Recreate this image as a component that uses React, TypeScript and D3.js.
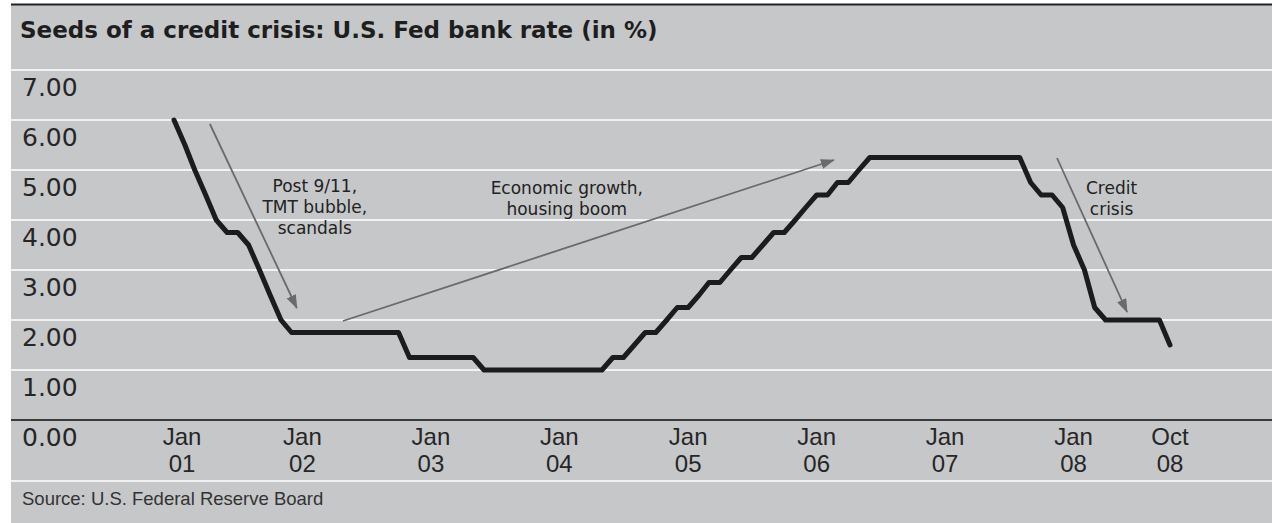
import React from 'react';
import * as d3 from 'd3';

const W = 1272;
const H = 523;

const TITLE = 'Seeds of a credit crisis: U.S. Fed bank rate (in %)';
const SOURCE = 'Source: U.S. Federal Reserve Board';

// Monthly Fed target rate (%), one value per month
const rates2001 = [6.0, 5.5, 5.0, 4.5, 4.0, 3.75, 3.75, 3.5, 3.0, 2.5, 2.0, 1.75];
const rates2002 = [1.75, 1.75, 1.75, 1.75, 1.75, 1.75, 1.75, 1.75, 1.75, 1.75, 1.25, 1.25];
const rates2003 = [1.25, 1.25, 1.25, 1.25, 1.25, 1.0, 1.0, 1.0, 1.0, 1.0, 1.0, 1.0];
const rates2004 = [1.0, 1.0, 1.0, 1.0, 1.0, 1.25, 1.25, 1.5, 1.75, 1.75, 2.0, 2.25];
const rates2005 = [2.25, 2.5, 2.75, 2.75, 3.0, 3.25, 3.25, 3.5, 3.75, 3.75, 4.0, 4.25];
const rates2006 = [4.5, 4.5, 4.75, 4.75, 5.0, 5.25, 5.25, 5.25, 5.25, 5.25, 5.25, 5.25];
const rates2007 = [5.25, 5.25, 5.25, 5.25, 5.25, 5.25, 5.25, 5.25, 4.75, 4.5, 4.5, 4.25];
const rates2008 = [3.5, 3.0, 2.25, 2.0, 2.0, 2.0, 2.0, 2.0, 2.0, 1.5];

const years = [2001, 2002, 2003, 2004, 2005, 2006, 2007, 2008];
const ratesByYear = [rates2001, rates2002, rates2003, rates2004, rates2005, rates2006, rates2007, rates2008];

const yTicks = [0, 1, 2, 3, 4, 5, 6, 7];
const xTickDates = ['2001-01-01', '2002-01-01', '2003-01-01', '2004-01-01', '2005-01-01', '2006-01-01', '2007-01-01', '2008-01-01', '2008-10-01'];
const xTickMonth = ['Jan', 'Jan', 'Jan', 'Jan', 'Jan', 'Jan', 'Jan', 'Jan', 'Oct'];
const xTickYear = ['01', '02', '03', '04', '05', '06', '07', '08', '08'];

// Annotations (data coordinates: date, rate)
const annotationLabels = [
  { lines: ['Post 9/11,', 'TMT bubble,', 'scandals'], date: '2002-02-05', value: 4.56 },
  { lines: ['Economic growth,', 'housing boom'], date: '2004-01-22', value: 4.53 },
  { lines: ['Credit', 'crisis'], date: '2008-04-18', value: 4.53 },
];
const annotationArrows = [
  { from: ['2001-04-13', 5.92], to: ['2001-12-16', 2.24] },
  { from: ['2002-04-26', 1.98], to: ['2006-02-19', 5.2] },
  { from: ['2007-11-15', 5.24], to: ['2008-06-01', 2.16] },
];

const parse = (s: string) => {
  const [y, m, d] = s.split('-').map(Number);
  return new Date(y, m - 1, d);
};

type Pt = { date: Date; value: number };
const series: Pt[] = [];
years.forEach((yr, i) => {
  ratesByYear[i].forEach((v, m) => series.push({ date: new Date(yr, m, 1), value: v }));
});

const BG = '#c6c7c9';
const PANEL_X = 11;

export default function App() {
  const x = d3.scaleTime().domain([new Date(2001, 0, 1), new Date(2008, 9, 1)]).range([174, 1170]);
  const y = d3.scaleLinear().domain([0, 7]).range([420, 70]);
  const line = d3
    .line<Pt>()
    .x((d) => x(d.date))
    .y((d) => y(d.value));

  return (
    <svg
      width={W}
      height={H}
      style={{ position: 'absolute', left: 0, top: 0, display: 'block' }}
      xmlns="http://www.w3.org/2000/svg"
    >
      <defs>
        <marker
          id="arrowhead"
          viewBox="0 0 14 10"
          refX={13}
          refY={5}
          markerWidth={14}
          markerHeight={10}
          markerUnits="userSpaceOnUse"
          orient="auto"
        >
          <path d="M0,0 L14,5 L0,10 Z" fill="#6a6a6a" />
        </marker>
      </defs>
      <rect x={0} y={0} width={W} height={H} fill="#ffffff" />
      <rect x={PANEL_X} y={4} width={W - PANEL_X} height={H - 4} fill={BG} />
      <line x1={PANEL_X} x2={W} y1={4.5} y2={4.5} stroke="#222" strokeWidth={2} />

      <text
        x={20}
        y={38}
        fontFamily="'DejaVu Sans', sans-serif"
        fontWeight="bold"
        fontSize={23}
        fill="#1e1e1e"
      >
        {TITLE}
      </text>

      {/* gridlines */}
      {yTicks.filter((t) => t > 0).map((t) => (
        <line key={t} x1={PANEL_X} x2={W} y1={y(t)} y2={y(t)} stroke="#f2f2f2" strokeWidth={2} />
      ))}
      {/* axis line */}
      <line x1={PANEL_X} x2={W} y1={y(0)} y2={y(0)} stroke="#3c3c3c" strokeWidth={2} />
      {/* source separator */}
      <line x1={PANEL_X} x2={W} y1={481} y2={481} stroke="#f2f2f2" strokeWidth={2} />

      {/* y labels */}
      {yTicks.map((t) => (
        <text
          key={t}
          x={22}
          y={y(t) + 26}
          fontFamily="'DejaVu Sans', sans-serif"
          fontSize={25}
          fill="#262626"
        >
          {t.toFixed(2)}
        </text>
      ))}

      {/* x labels */}
      {xTickDates.map((ds, i) => {
        const cx = x(parse(ds)) + (i === 0 ? 8 : 0);
        return (
          <g key={ds} fontFamily="'Liberation Sans', Arial, sans-serif" fontSize={24} fill="#262626" textAnchor="middle">
            <text x={cx} y={445}>{xTickMonth[i]}</text>
            <text x={cx} y={472}>{xTickYear[i]}</text>
          </g>
        );
      })}

      {/* annotation arrows */}
      {annotationArrows.map((a, i) => (
        <line
          key={i}
          x1={x(parse(a.from[0] as string))}
          y1={y(a.from[1] as number)}
          x2={x(parse(a.to[0] as string))}
          y2={y(a.to[1] as number)}
          stroke="#6a6a6a"
          strokeWidth={1.8}
          markerEnd="url(#arrowhead)"
        />
      ))}

      {/* annotation labels */}
      {annotationLabels.map((a, i) => (
        <text
          key={i}
          x={x(parse(a.date))}
          y={y(a.value)}
          fontFamily="'DejaVu Sans', sans-serif"
          fontSize={17}
          fill="#222"
          textAnchor="middle"
        >
          {a.lines.map((l, j) => (
            <tspan key={j} x={x(parse(a.date))} dy={j === 0 ? 0 : 21}>
              {l}
            </tspan>
          ))}
        </text>
      ))}

      {/* rate line */}
      <path
        d={line(series) || ''}
        fill="none"
        stroke="#1c1c1c"
        strokeWidth={5}
        strokeLinejoin="round"
        strokeLinecap="round"
      />

      <text
        x={22}
        y={505}
        fontFamily="'Liberation Sans', Arial, sans-serif"
        fontSize={18.5}
        fill="#333"
      >
        {SOURCE}
      </text>
    </svg>
  );
}
